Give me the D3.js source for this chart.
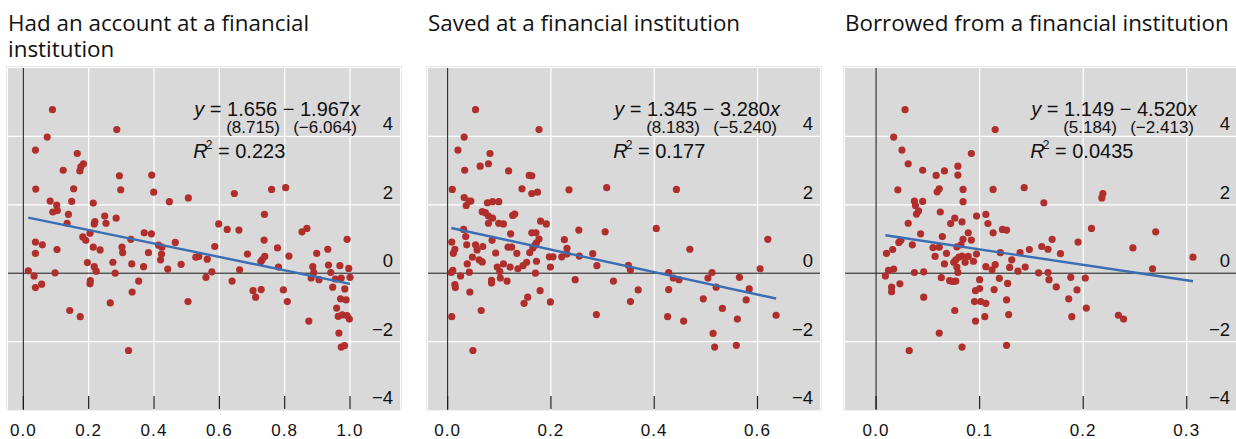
<!DOCTYPE html>
<html>
<head>
<meta charset="utf-8">
<script src="https://cdn.jsdelivr.net/npm/d3@7"></script>
<style>
  html, body { margin: 0; padding: 0; background: #ffffff; }
  svg { display: block; }
</style>
</head>
<body>
<script>
// Panel titles (first one wraps onto two lines)
const titles = [
  ["Had an account at a financial", "institution"],
  ["Saved at a financial institution"],
  ["Borrowed from a financial institution"]
];

// Share of adults (x) vs. residual outcome (y), one point per economy
const accountPts = [
  [0.089,4.78],[0.286,4.20],[0.073,3.98],[0.037,3.60],[0.165,3.50],[0.184,3.20],[0.176,3.11],[0.173,2.99],
  [0.122,3.01],[0.294,2.85],[0.393,2.87],[0.038,2.46],[0.154,2.47],[0.298,2.44],[0.399,2.37],[0.505,2.20],
  [0.447,2.09],[0.082,2.11],[0.102,1.99],[0.148,2.10],[0.214,2.05],[0.090,1.79],[0.104,1.83],[0.138,1.72],
  [0.249,1.67],[0.284,1.61],[0.134,1.46],[0.219,1.51],[0.217,1.44],[0.253,1.46],[0.204,1.17],[0.182,1.06],
  [0.191,0.96],[0.329,0.99],[0.370,1.18],[0.392,1.15],[0.037,0.91],[0.058,0.83],[0.037,0.58],[0.103,0.69],
  [0.214,0.76],[0.235,0.68],[0.302,0.76],[0.304,0.60],[0.383,0.60],[0.414,0.82],[0.424,0.76],[0.423,0.56],
  [0.420,0.39],[0.465,0.90],[0.442,0.12],[0.483,0.26],[0.528,0.47],[0.537,0.49],[0.563,0.41],[0.586,0.78],
  [0.196,0.31],[0.217,0.19],[0.223,0.06],[0.274,0.32],[0.332,0.27],[0.368,0.19],[0.281,0.00],[0.015,0.07],
  [0.033,-0.08],[0.097,0.01],[0.037,-0.42],[0.056,-0.32],[0.205,-0.22],[0.204,-0.31],[0.353,-0.23],[0.333,-0.55],
  [0.266,-0.87],[0.142,-1.09],[0.174,-1.27],[0.504,-0.83],[0.322,-2.26],[0.559,-0.12],[0.577,0.04],
  [0.646,2.33],[0.760,2.45],[0.803,2.50],[0.598,1.44],[0.624,1.28],[0.660,1.26],[0.738,1.72],[0.737,0.97],
  [0.686,0.56],[0.731,0.39],[0.727,0.34],[0.739,0.49],[0.778,0.74],[0.813,0.50],[0.781,0.18],[0.662,0.10],
  [0.639,-0.23],[0.703,-0.51],[0.711,-0.70],[0.728,-0.48],[0.796,-0.49],[0.808,-0.83],[0.853,1.21],[0.868,1.31],
  [0.898,0.58],[0.932,0.70],[0.886,0.19],[0.889,0.02],[0.881,-0.14],[0.905,-0.19],[0.934,0.24],[0.941,0.02],
  [0.969,0.22],[0.991,0.99],[0.996,0.14],[1.000,-0.12],[0.955,-0.17],[0.973,-0.14],[0.947,-0.41],[0.984,-0.46],
  [0.971,-0.75],[0.988,-0.78],[0.959,-1.02],[0.964,-1.26],[0.976,-1.22],[0.991,-1.24],[0.998,-1.34],[0.966,-1.75],
  [0.874,-1.40],[0.973,-2.16],[0.983,-2.12]
];

const savedPts = [
  [0.054,4.78],[0.177,4.20],[0.032,3.98],[0.020,3.60],[0.082,3.50],[0.079,3.20],[0.063,3.13],[0.033,3.01],
  [0.118,2.99],[0.158,2.86],[0.163,2.85],[0.009,2.45],[0.144,2.47],[0.163,2.33],[0.174,2.37],[0.235,2.44],
  [0.308,2.50],[0.032,2.21],[0.041,2.11],[0.045,2.11],[0.036,1.98],[0.077,2.06],[0.087,2.09],[0.099,2.09],
  [0.067,1.80],[0.073,1.77],[0.079,1.67],[0.087,1.61],[0.079,1.46],[0.099,1.46],[0.108,1.44],[0.126,1.69],
  [0.130,1.73],[0.122,1.15],[0.180,1.52],[0.191,1.44],[0.163,1.18],[0.171,1.18],[0.177,1.00],[0.172,0.89],
  [0.169,0.82],[0.165,0.74],[0.159,0.60],[0.031,1.28],[0.035,1.07],[0.008,0.91],[0.037,0.83],[0.014,0.70],
  [0.011,0.58],[0.054,0.83],[0.057,0.68],[0.068,0.78],[0.086,0.96],[0.048,0.47],[0.061,0.39],[0.067,0.33],
  [0.093,0.59],[0.117,0.76],[0.124,0.76],[0.134,0.58],[0.038,0.27],[0.010,0.08],[0.007,0.02],[0.025,-0.08],
  [0.042,0.03],[0.096,0.18],[0.108,0.27],[0.101,0.05],[0.102,-0.14],[0.121,0.18],[0.136,0.13],[0.146,0.22],
  [0.153,0.32],[0.172,0.35],[0.170,0.00],[0.197,0.48],[0.204,0.48],[0.199,0.18],[0.221,0.48],[0.231,0.56],
  [0.231,0.73],[0.226,0.98],[0.254,1.26],[0.255,0.50],[0.281,0.57],[0.289,0.22],[0.305,1.21],[0.350,0.23],
  [0.354,0.10],[0.085,-0.21],[0.085,-0.29],[0.115,-0.23],[0.014,-0.33],[0.015,-0.42],[0.043,-0.55],[0.247,-0.19],
  [0.321,-0.23],[0.179,-0.51],[0.155,-0.70],[0.148,-0.88],[0.199,-0.84],[0.354,-0.83],[0.008,-1.27],[0.065,-1.09],
  [0.288,-1.21],[0.049,-2.26],
  [0.443,2.45],[0.404,1.31],[0.469,0.70],[0.620,0.99],[0.605,0.13],[0.428,0.02],[0.437,-0.14],[0.448,-0.19],
  [0.369,-0.49],[0.428,-0.48],[0.504,-0.14],[0.512,0.02],[0.520,-0.41],[0.565,-0.12],[0.584,-0.46],[0.495,-0.75],
  [0.532,-1.03],[0.578,-0.78],[0.426,-1.27],[0.457,-1.40],[0.561,-1.34],[0.636,-1.23],[0.514,-1.76],[0.517,-2.16],
  [0.559,-2.11]
];

const borrowedPts = [
  [0.028,4.78],[0.115,4.20],[0.017,3.98],[0.025,3.60],[0.092,3.50],[0.031,3.20],[0.045,3.01],[0.058,2.86],
  [0.066,2.99],[0.079,3.13],[0.079,2.87],[0.021,2.44],[0.061,2.47],[0.059,2.38],[0.084,2.45],[0.113,2.45],
  [0.143,2.50],[0.037,2.11],[0.045,2.10],[0.038,1.98],[0.084,2.09],[0.041,1.82],[0.039,1.73],[0.062,1.79],
  [0.097,1.67],[0.106,1.72],[0.076,1.61],[0.072,1.45],[0.083,1.50],[0.108,1.45],[0.031,1.46],[0.043,1.15],
  [0.064,1.07],[0.089,1.18],[0.092,0.97],[0.113,1.18],[0.122,1.28],[0.126,1.26],[0.022,0.90],[0.024,0.96],
  [0.035,0.83],[0.016,0.69],[0.010,0.58],[0.055,0.75],[0.061,0.76],[0.057,0.49],[0.068,0.58],[0.078,0.77],
  [0.082,0.83],[0.084,0.99],[0.097,0.56],[0.120,0.60],[0.139,0.60],[0.148,0.69],[0.066,0.27],[0.075,0.32],
  [0.077,0.39],[0.080,0.47],[0.083,0.50],[0.086,0.32],[0.089,0.49],[0.094,0.35],[0.078,0.18],[0.079,0.02],
  [0.106,0.19],[0.115,0.25],[0.112,0.10],[0.129,0.17],[0.131,0.39],[0.137,0.06],[0.144,0.18],[0.157,0.01],
  [0.160,0.78],[0.166,0.70],[0.170,0.99],[0.167,-0.19],[0.166,0.02],[0.009,-0.08],[0.012,0.08],[0.017,0.12],
  [0.015,-0.41],[0.015,-0.54],[0.023,-0.31],[0.037,0.02],[0.046,0.04],[0.046,-0.70],[0.063,-0.13],[0.071,-0.22],
  [0.074,-0.24],[0.077,-0.23],[0.100,-0.19],[0.096,-0.51],[0.100,-0.45],[0.095,-0.83],[0.101,-0.83],[0.106,-0.88],
  [0.114,-0.48],[0.119,-0.15],[0.127,-0.30],[0.126,-0.78],[0.128,-1.21],[0.105,-1.27],[0.096,-1.40],[0.076,-1.09],
  [0.061,-1.75],[0.083,-2.16],[0.126,-2.11],[0.032,-2.26],[0.162,2.06],
  [0.178,0.57],[0.174,-0.40],[0.195,0.91],[0.188,-0.12],[0.202,-0.14],[0.194,-0.49],[0.186,-0.75],[0.203,-1.02],
  [0.189,-1.27],[0.208,1.31],[0.219,2.33],[0.218,2.20],[0.234,-1.23],[0.239,-1.34],[0.248,0.74],[0.267,0.13],
  [0.270,1.21],[0.306,0.47]
];

// OLS fits: intercept, slope, t-statistics and R-squared per panel
const intercepts = [1.656, 1.345, 1.149];
const slopes = [-1.967, -3.280, -4.520];
const interceptT = ["8.715", "8.183", "5.184"];
const slopeT = ["\u22126.064", "\u22125.240", "\u22122.413"];
const rSquared = ["0.223", "0.177", "0.0435"];

// Axis ticks
const yTicks = [-4, -2, 0, 2, 4];
const xTicksList = [
  [0, 0.2, 0.4, 0.6, 0.8, 1.0],
  [0, 0.2, 0.4, 0.6],
  [0, 0.1, 0.2, 0.3]
];
const xDomains = [[-0.047, 1.153], [-0.038, 0.721], [-0.030, 0.3485]];
const yDomain = [-4, 6];

const datasets = [accountPts, savedPts, borrowedPts];

// Layout
const W = 1236, H = 439;
const panelLefts = [8, 428, 845];
const panelW = 392;
const plotTop = 68, plotBottom = 410;

const numFont = "'Liberation Sans', Arial, sans-serif";
const titleFont = "'Open Sans', 'Noto Sans', sans-serif";

const svg = d3.select("body").append("svg")
  .attr("width", W).attr("height", H)
  .attr("viewBox", `0 0 ${W} ${H}`);

const y = d3.scaleLinear().domain(yDomain).range([plotBottom, plotTop]);
const fmtMinus = v => (v < 0 ? "\u2212" + Math.abs(v) : String(v));

panelLefts.forEach((left, i) => {
  const data = datasets[i];
  const x = d3.scaleLinear().domain(xDomains[i]).range([left, left + panelW]);
  const g = svg.append("g");

  // title
  const t = g.append("text")
    .attr("font-family", titleFont)
    .attr("font-size", 22.4)
    .attr("fill", "#111");
  titles[i].forEach((line, k) => {
    t.append("tspan").attr("x", left).attr("y", 31 + k * 25.5).text(line);
  });

  // faint frame and grey plot area
  g.append("rect")
    .attr("x", left - 1.5).attr("y", plotTop - 1.5)
    .attr("width", panelW + 3).attr("height", plotBottom - plotTop + 1.5)
    .attr("fill", "none").attr("stroke", "#e6e6e6").attr("stroke-width", 1);
  g.append("rect")
    .attr("x", left).attr("y", plotTop)
    .attr("width", panelW).attr("height", plotBottom - plotTop)
    .attr("fill", "#d9d9d9");

  // white grid
  g.append("g").selectAll("line.h")
    .data(yTicks.filter(v => v !== 0 && v > yDomain[0]))
    .join("line")
    .attr("x1", left).attr("x2", left + panelW)
    .attr("y1", d => y(d)).attr("y2", d => y(d))
    .attr("stroke", "#ffffff").attr("stroke-width", 1.2);
  g.append("g").selectAll("line.v")
    .data(xTicksList[i].filter(v => v !== 0))
    .join("line")
    .attr("x1", d => x(d)).attr("x2", d => x(d))
    .attr("y1", plotTop).attr("y2", plotBottom)
    .attr("stroke", "#ffffff").attr("stroke-width", 1.2);

  // zero axes
  g.append("line")
    .attr("x1", left).attr("x2", left + panelW)
    .attr("y1", y(0)).attr("y2", y(0))
    .attr("stroke", "#1a1a1a").attr("stroke-width", 1);
  g.append("line")
    .attr("x1", x(0)).attr("x2", x(0))
    .attr("y1", plotTop).attr("y2", plotBottom)
    .attr("stroke", "#1a1a1a").attr("stroke-width", 1);

  // inner tick marks along the bottom
  g.append("g").selectAll("line")
    .data(xTicksList[i])
    .join("line")
    .attr("x1", d => x(d)).attr("x2", d => x(d))
    .attr("y1", plotBottom - 14).attr("y2", plotBottom - 1)
    .attr("stroke", "#1a1a1a").attr("stroke-width", 1.2);

  // x tick labels
  g.append("g").selectAll("text")
    .data(xTicksList[i])
    .join("text")
    .attr("x", d => x(d)).attr("y", 436)
    .attr("text-anchor", "middle")
    .attr("font-family", numFont).attr("font-size", 17)
    .attr("letter-spacing", 1.1)
    .attr("fill", "#111")
    .text(d => d.toFixed(1));

  // y tick labels inside the right edge
  g.append("g").selectAll("text")
    .data(yTicks)
    .join("text")
    .attr("x", left + panelW - 7).attr("y", d => y(d) - 6)
    .attr("text-anchor", "end")
    .attr("font-family", numFont).attr("font-size", 18.5)
    .attr("fill", "#111")
    .text(d => fmtMinus(d));

  // points
  g.append("g").selectAll("circle")
    .data(data)
    .join("circle")
    .attr("cx", d => x(d[0])).attr("cy", d => y(d[1]))
    .attr("r", 3.6)
    .attr("fill", "#b02f2c");

  // fitted line over the observed x range
  const [xMin, xMax] = d3.extent(data, d => d[0]);
  const fit = v => intercepts[i] + slopes[i] * v;
  g.append("line")
    .attr("x1", x(xMin)).attr("y1", y(fit(xMin)))
    .attr("x2", x(xMax)).attr("y2", y(fit(xMax)))
    .attr("stroke", "#3b6db3").attr("stroke-width", 2.4)
    .attr("stroke-linecap", "butt");

  // regression equation
  const eq = g.append("text")
    .attr("x", left + 352).attr("y", 116)
    .attr("text-anchor", "end")
    .attr("font-family", numFont).attr("font-size", 20)
    .attr("fill", "#111");
  eq.append("tspan").attr("font-style", "italic").text("y");
  eq.append("tspan").text(` = ${intercepts[i].toFixed(3)} \u2212 ${Math.abs(slopes[i]).toFixed(3)}`);
  eq.append("tspan").attr("font-style", "italic").text("x");

  g.append("text")
    .attr("x", left + 272).attr("y", 133)
    .attr("text-anchor", "end")
    .attr("font-family", numFont).attr("font-size", 17)
    .attr("fill", "#111")
    .text(`(${interceptT[i]})`);
  g.append("text")
    .attr("x", left + 349).attr("y", 133)
    .attr("text-anchor", "end")
    .attr("font-family", numFont).attr("font-size", 17)
    .attr("fill", "#111")
    .text(`(${slopeT[i]})`);

  const eqStart = eq.node().getBBox().x;
  const r2 = g.append("text")
    .attr("x", eqStart + 1).attr("y", 158)
    .attr("font-family", numFont).attr("font-size", 20)
    .attr("fill", "#111");
  r2.append("tspan").attr("font-style", "italic").text("R");
  r2.append("tspan").attr("font-size", 12).attr("dy", -9).attr("dx", -2).text("2");
  r2.append("tspan").attr("dy", 9).text(` = ${rSquared[i]}`);
});
</script>
</body>
</html>
